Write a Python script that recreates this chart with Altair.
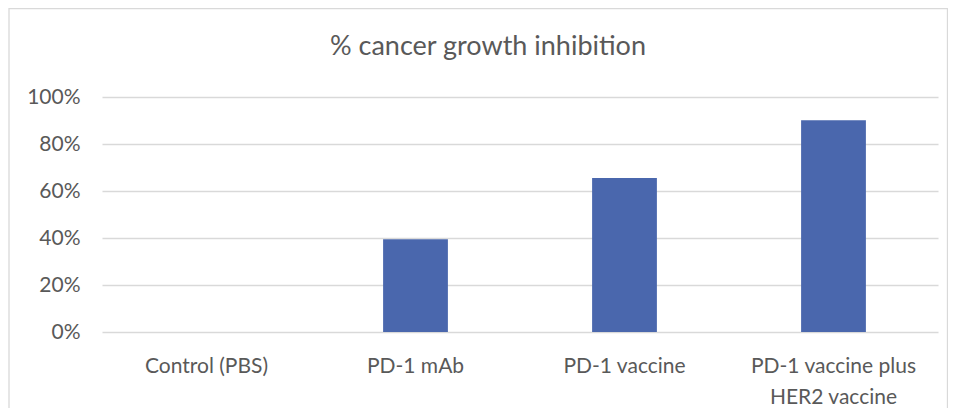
import altair as alt
import pandas as pd

categories = ["Control (PBS)", "PD-1 mAb", "PD-1 vaccine", "PD-1 vaccine plus HER2 vaccine"]
values = [0.0, 0.395, 0.655, 0.901]
title_text = "% cancer growth inhibition"

df = pd.DataFrame({"group": categories, "value": values})

FONT = "Lato"
GREY = "#595959"

label_expr = ("datum.label == 'PD-1 vaccine plus HER2 vaccine' ? "
              "['PD-1 vaccine plus', 'HER2 vaccine'] : datum.label")

bars = alt.Chart(df).mark_bar(color="#4A67AD").encode(
    x=alt.X("group:N", sort=categories, title=None,
            scale=alt.Scale(paddingInner=0.69, paddingOuter=0.345),
            axis=alt.Axis(labelAngle=0, labelExpr=label_expr, labelFont=FONT,
                          labelFontSize=21, labelColor=GREY, labelPadding=23,
                          labelLineHeight=31, ticks=False, domain=False, grid=False,
                          labelBaseline="top")),
    y=alt.Y("value:Q", title=None,
            scale=alt.Scale(domain=[0, 1], nice=False),
            axis=alt.Axis(format="%", values=[0, 0.2, 0.4, 0.6, 0.8, 1.0],
                          labelFont=FONT, labelFontSize=21, labelColor=GREY,
                          labelPadding=22, ticks=False, domain=False,
                          grid=True, gridColor="#d9d9d9", gridWidth=1.3)),
)

frame = alt.Chart(pd.DataFrame({"a": [0]})).mark_rect(
    fill="transparent", stroke="#d9d9d9", strokeWidth=1.3
).encode(
    x=alt.value(-93), x2=alt.value(845.5),
    y=alt.value(-88.5), y2=alt.value(330),
)

title = alt.Chart(pd.DataFrame({"t": [title_text]})).mark_text(
    font=FONT, fontSize=27, color=GREY, baseline="middle", align="center"
).encode(
    text="t:N", x=alt.value(386), y=alt.value(-50),
)

chart = alt.layer(frame, bars, title).properties(
    width=836, height=235,
    autosize=alt.AutoSizeParams(type="none"),
    padding={"left": 94, "top": 89, "right": 10, "bottom": 76},
).configure_view(stroke=None)

chart.save("out.html", embed_options={"renderer": "svg", "actions": False})
